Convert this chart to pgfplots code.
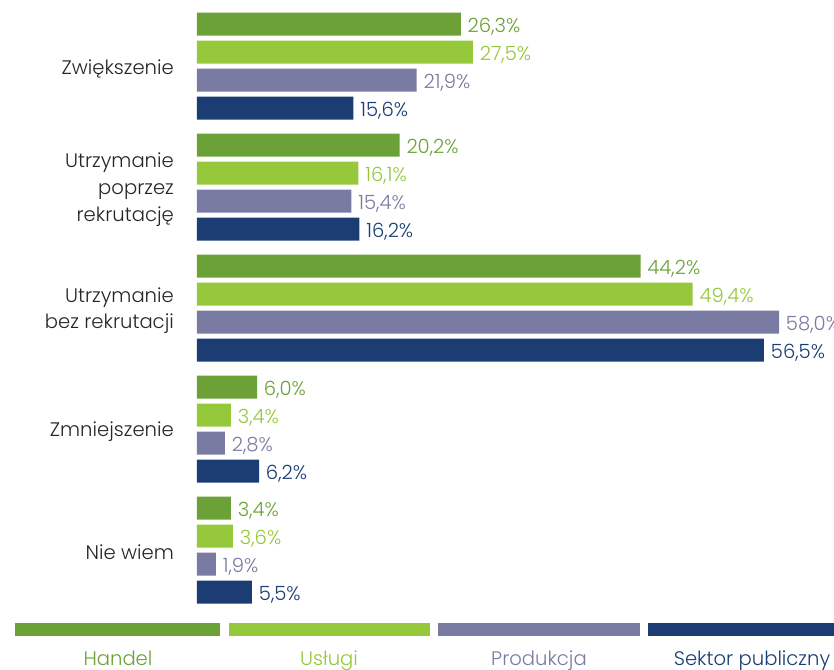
\documentclass[border=0pt]{standalone}
\usepackage{pgfplots}
\pgfplotsset{compat=1.18}
\usepackage{fontspec}
\IfFontExistsTF{Poppins Light}{\setmainfont{Poppins Light}}{\setmainfont{Poppins}}
\definecolor{hand}{HTML}{6CA138}
\definecolor{usl}{HTML}{96C83C}
\definecolor{prod}{HTML}{7A7BA2}
\definecolor{sek}{HTML}{1C3D74}
\begin{document}
\begin{tikzpicture}[x=0.75pt,y=-0.75pt]
\clip (0,0) rectangle (834,669);
\begin{axis}[
  at={(196,669)}, anchor=south west,
  scale only axis, width=478.5pt, height=501.75pt,
  xmin=0, xmax=63.55, ymin=0, ymax=669, y dir=reverse,
  clip=false,
  axis line style={draw=none},
  xtick=\empty,
  ytick={66,187,308,429,550},
  yticklabels={Zwiększenie,{Utrzymanie\\poprzez\\rekrutację},{Utrzymanie\\bez rekrutacji},Zmniejszenie,Nie wiem},
  major tick length=0pt,
  yticklabel style={align=right, font=\fontsize{14.7}{20.2}\selectfont, text=black!85, inner sep=0pt, xshift=-17pt, yshift=-2pt},
  xbar, bar width=17.25pt,
  point meta=explicit symbolic,
  nodes near coords,
  nodes near coords style={anchor=west, inner sep=0pt, xshift=5pt, yshift=-2pt, font=\fontsize{14.7}{16}\selectfont},
]
\addplot[fill=hand, draw=none, bar shift=0pt, nodes near coords style={text=hand}] coordinates {
 (26.3,24) [26,3\%]
 (20.2,145) [20,2\%]
 (44.2,266) [44,2\%]
 (6.0,387) [6,0\%]
 (3.4,508) [3,4\%]
};
\addplot[fill=usl, draw=none, bar shift=0pt, nodes near coords style={text=usl}] coordinates {
 (27.5,52) [27,5\%]
 (16.1,173) [16,1\%]
 (49.4,294) [49,4\%]
 (3.4,415) [3,4\%]
 (3.6,536) [3,6\%]
};
\addplot[fill=prod, draw=none, bar shift=0pt, nodes near coords style={text=prod}] coordinates {
 (21.9,80) [21,9\%]
 (15.4,201) [15,4\%]
 (58.0,322) [58,0\%]
 (2.8,443) [2,8\%]
 (1.9,564) [1,9\%]
};
\addplot[fill=sek, draw=none, bar shift=0pt, nodes near coords style={text=sek}] coordinates {
 (15.6,108) [15,6\%]
 (16.2,229) [16,2\%]
 (56.5,350) [56,5\%]
 (6.2,471) [6,2\%]
 (5.5,592) [5,5\%]
};
\end{axis}
\fill[hand] (15,623) rectangle (220,636);
\fill[usl] (229,623) rectangle (430,636);
\fill[prod] (438,623) rectangle (640,636);
\fill[sek] (648,623) rectangle (840,636);
\begin{scope}[every node/.style={anchor=base, inner sep=0pt, font=\fontsize{14.7}{16}\selectfont}]
\node[text=hand] at (118,665) {Handel};
\node[text=usl] at (329,665) {Usługi};
\node[text=prod] at (539,665) {Produkcja};
\node[text=sek] at (752,665) {Sektor publiczny};
\end{scope}
\end{tikzpicture}
\end{document}
